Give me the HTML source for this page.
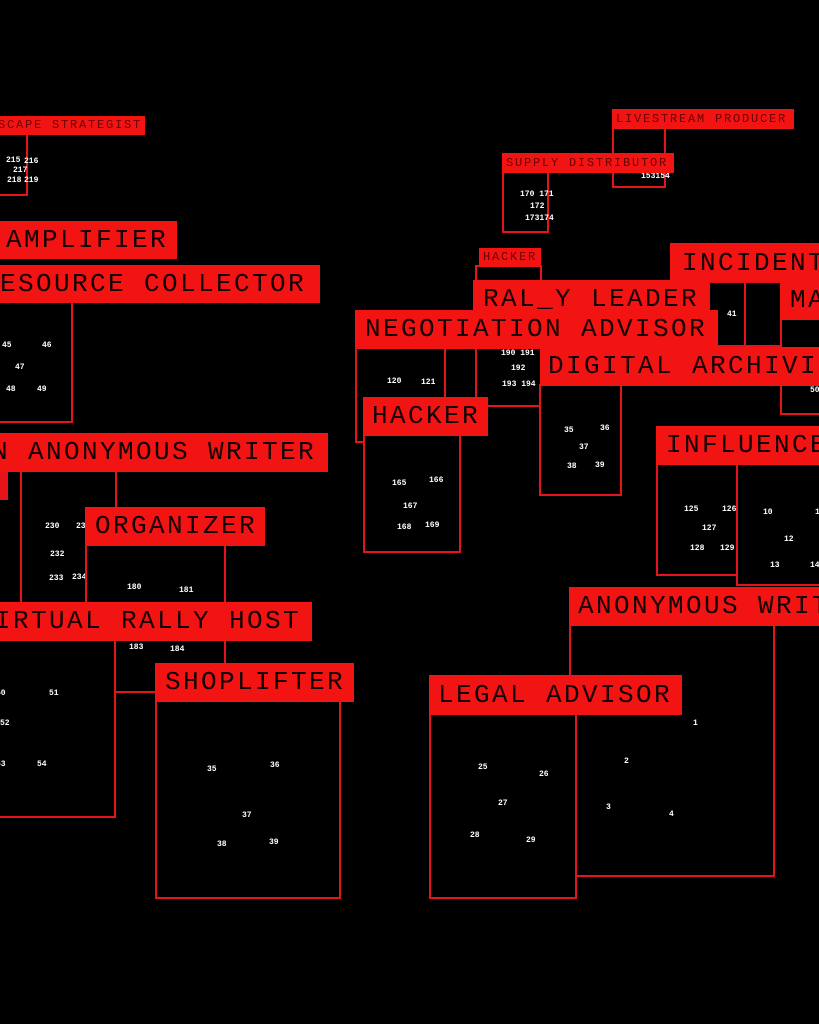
<!DOCTYPE html>
<html><head><meta charset="utf-8"><style>
html,body{margin:0;padding:0;background:#000;}
#c{position:relative;width:819px;height:1024px;overflow:hidden;background:#000;}
.b{position:absolute;border:2px solid #e5141a;background:#000;box-sizing:border-box;}
.l{position:absolute;background:#f21313;box-sizing:border-box;overflow:hidden;white-space:nowrap;
 font-family:"Liberation Mono",monospace;font-size:26px;letter-spacing:2.4px;color:#140000;}
.s{position:absolute;background:#f21313;box-sizing:border-box;overflow:hidden;white-space:nowrap;
 font-family:"Liberation Mono",monospace;font-size:12px;letter-spacing:1.8px;color:#6a0000;}
.n{position:absolute;font-family:"Liberation Mono",monospace;font-size:8px;font-weight:bold;color:#fff;line-height:8px;}
.v{position:absolute;background:#e5141a;}
</style></head><body><div id="c">

<div class="b" style="left:-4px;top:132px;width:32px;height:64px"></div>
<div class="s" style="left:-2px;top:116px;width:147px;height:19px;line-height:19px;text-indent:-9px">ESCAPE STRATEGIST</div>
<div class="n" style="left:6px;top:157px">215</div><div class="n" style="left:24px;top:158px">216</div>
<div class="n" style="left:13px;top:167px">217</div>
<div class="n" style="left:7px;top:177px">218</div><div class="n" style="left:24px;top:177px">219</div>

<div class="l" style="left:-2px;top:221px;width:179px;height:38px;line-height:38px;text-indent:8px">AMPLIFIER</div>

<div class="b" style="left:-4px;top:301px;width:77px;height:122px"></div>
<div class="l" style="left:-2px;top:265px;width:322px;height:38px;line-height:38px;text-indent:-16px">RESOURCE COLLECTOR</div>
<div class="n" style="left:2px;top:342px">45</div><div class="n" style="left:42px;top:342px">46</div>
<div class="n" style="left:15px;top:364px">47</div>
<div class="n" style="left:6px;top:386px">48</div><div class="n" style="left:37px;top:386px">49</div>

<div class="v" style="left:0;top:470px;width:8px;height:30px"></div>
<div class="b" style="left:20px;top:470px;width:97px;height:200px"></div>
<div class="l" style="left:-2px;top:433px;width:330px;height:39px;line-height:39px;text-indent:-24px">AN ANONYMOUS WRITER</div>
<div class="n" style="left:45px;top:523px">230</div><div class="n" style="left:76px;top:523px">231</div>
<div class="n" style="left:50px;top:551px">232</div>
<div class="n" style="left:49px;top:575px">233</div><div class="n" style="left:72px;top:574px">234</div>

<div class="b" style="left:85px;top:544px;width:141px;height:149px"></div>
<div class="l" style="left:85px;top:507px;width:180px;height:39px;line-height:39px;text-indent:10px">ORGANIZER</div>
<div class="n" style="left:127px;top:584px">180</div><div class="n" style="left:179px;top:587px">181</div>
<div class="n" style="left:129px;top:644px">183</div><div class="n" style="left:170px;top:646px">184</div>

<div class="b" style="left:-4px;top:639px;width:120px;height:179px"></div>
<div class="l" style="left:-2px;top:602px;width:314px;height:39px;line-height:39px;text-indent:-21px">VIRTUAL RALLY HOST</div>
<div class="n" style="left:-4px;top:690px">50</div><div class="n" style="left:49px;top:690px">51</div>
<div class="n" style="left:0px;top:720px">52</div>
<div class="n" style="left:-4px;top:761px">53</div><div class="n" style="left:37px;top:761px">54</div>

<div class="b" style="left:155px;top:700px;width:186px;height:199px"></div>
<div class="l" style="left:155px;top:663px;width:199px;height:39px;line-height:39px;text-indent:10px">SHOPLIFTER</div>
<div class="n" style="left:207px;top:766px">35</div><div class="n" style="left:270px;top:762px">36</div>
<div class="n" style="left:242px;top:812px">37</div>
<div class="n" style="left:217px;top:841px">38</div><div class="n" style="left:269px;top:839px">39</div>

<div class="b" style="left:612px;top:127px;width:54px;height:61px"></div>
<div class="s" style="left:612px;top:109px;width:182px;height:20px;line-height:20px;text-indent:4px">LIVESTREAM PRODUCER</div>
<div class="n" style="left:641px;top:173px">153154</div>

<div class="b" style="left:502px;top:171px;width:47px;height:62px"></div>
<div class="s" style="left:502px;top:153px;width:172px;height:20px;line-height:20px;text-indent:4px">SUPPLY DISTRIBUTOR</div>
<div class="n" style="left:520px;top:191px">170 171</div>
<div class="n" style="left:530px;top:203px">172</div>
<div class="n" style="left:525px;top:215px">173174</div>

<div class="b" style="left:475px;top:265px;width:67px;height:142px"></div>
<div class="s" style="left:479px;top:248px;width:62px;height:19px;line-height:19px;text-indent:4px">HACKER</div>

<div class="l" style="left:670px;top:243px;width:160px;height:40px;line-height:40px;text-indent:12px">INCIDENT</div>
<div class="b" style="left:708px;top:281px;width:38px;height:66px"></div>
<div class="b" style="left:744px;top:281px;width:38px;height:66px"></div>
<div class="n" style="left:727px;top:311px">41</div>

<div class="l" style="left:473px;top:280px;width:236px;height:38px;line-height:38px;text-indent:10px">RAL_Y LEADER</div>

<div class="b" style="left:780px;top:318px;width:50px;height:97px"></div>
<div class="l" style="left:780px;top:281px;width:50px;height:39px;line-height:39px;text-indent:10px">MA</div>

<div class="b" style="left:355px;top:347px;width:91px;height:96px"></div>
<div class="v" style="left:444px;top:347px;width:2px;height:52px"></div>
<div class="l" style="left:355px;top:310px;width:363px;height:39px;line-height:39px;text-indent:10px">NEGOTIATION ADVISOR</div>
<div class="n" style="left:387px;top:378px">120</div><div class="n" style="left:421px;top:379px">121</div>
<div class="n" style="left:501px;top:350px">190 191</div>
<div class="n" style="left:511px;top:365px">192</div>
<div class="n" style="left:502px;top:381px">193 194</div>

<div class="b" style="left:539px;top:384px;width:83px;height:112px"></div>
<div class="l" style="left:540px;top:347px;width:290px;height:39px;line-height:39px;text-indent:8px">DIGITAL ARCHIVIST</div>
<div class="n" style="left:564px;top:427px">35</div><div class="n" style="left:600px;top:425px">36</div>
<div class="n" style="left:579px;top:444px">37</div>
<div class="n" style="left:567px;top:463px">38</div><div class="n" style="left:595px;top:462px">39</div>
<div class="n" style="left:810px;top:387px">50</div>

<div class="b" style="left:363px;top:434px;width:98px;height:119px"></div>
<div class="l" style="left:363px;top:397px;width:125px;height:39px;line-height:39px;text-indent:9px">HACKER</div>
<div class="n" style="left:392px;top:480px">165</div><div class="n" style="left:429px;top:477px">166</div>
<div class="n" style="left:403px;top:503px">167</div>
<div class="n" style="left:397px;top:524px">168</div><div class="n" style="left:425px;top:522px">169</div>

<div class="b" style="left:736px;top:463px;width:100px;height:123px"></div>
<div class="b" style="left:656px;top:463px;width:82px;height:113px"></div>
<div class="l" style="left:656px;top:426px;width:175px;height:39px;line-height:39px;text-indent:10px">INFLUENCER</div>
<div class="n" style="left:684px;top:506px">125</div><div class="n" style="left:722px;top:506px">126</div>
<div class="n" style="left:702px;top:525px">127</div>
<div class="n" style="left:690px;top:545px">128</div><div class="n" style="left:720px;top:545px">129</div>
<div class="n" style="left:763px;top:509px">10</div><div class="n" style="left:815px;top:509px">11</div>
<div class="n" style="left:784px;top:536px">12</div>
<div class="n" style="left:770px;top:562px">13</div><div class="n" style="left:810px;top:562px">14</div>

<div class="b" style="left:569px;top:624px;width:206px;height:253px"></div>
<div class="l" style="left:569px;top:587px;width:260px;height:39px;line-height:39px;text-indent:9px">ANONYMOUS WRITER</div>
<div class="n" style="left:693px;top:720px">1</div>
<div class="n" style="left:624px;top:758px">2</div>
<div class="n" style="left:606px;top:804px">3</div>
<div class="n" style="left:669px;top:811px">4</div>

<div class="b" style="left:429px;top:713px;width:148px;height:186px"></div>
<div class="l" style="left:429px;top:675px;width:253px;height:40px;line-height:40px;text-indent:9px">LEGAL ADVISOR</div>
<div class="n" style="left:478px;top:764px">25</div><div class="n" style="left:539px;top:771px">26</div>
<div class="n" style="left:498px;top:800px">27</div>
<div class="n" style="left:470px;top:832px">28</div><div class="n" style="left:526px;top:837px">29</div>

</div></body></html>
